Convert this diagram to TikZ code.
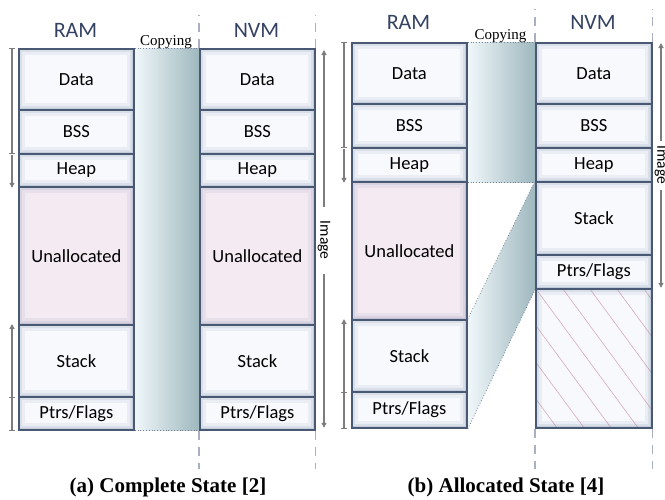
\documentclass[tikz,border=0pt]{standalone}
\usepackage{fontspec}
\setmainfont{Liberation Serif}
\newfontfamily\boxfont{Carlito}
\usetikzlibrary{arrows.meta,backgrounds}
\definecolor{memedge}{RGB}{74,89,115}
\definecolor{memfill}{RGB}{248,249,252}
\definecolor{glowc}{RGB}{120,138,170}
\definecolor{unalfill}{RGB}{244,234,242}
\definecolor{hatchc}{RGB}{215,170,192}
\definecolor{headc}{RGB}{52,66,98}
\definecolor{guidec}{RGB}{168,176,194}
\definecolor{markc}{RGB}{125,125,125}
\definecolor{bandl}{RGB}{240,247,250}
\definecolor{bandr}{RGB}{158,184,190}

\newcommand{\memglowpic}{%
  \draw[glowc, line width=13pt, opacity=.10] (path picture bounding box.south west) rectangle (path picture bounding box.north east);
  \draw[glowc, line width=7pt, opacity=.14] (path picture bounding box.south west) rectangle (path picture bounding box.north east);
  \draw[glowc, line width=3pt, opacity=.22] (path picture bounding box.south west) rectangle (path picture bounding box.north east);}
\newcommand{\hatchpic}{%
  \foreach \k in {-4,...,5}
    \draw[hatchc, line width=.6pt] ([xshift=\k*27pt]path picture bounding box.north west) -- ++(125,170);
  \memglowpic}

\begin{document}
\begin{tikzpicture}[
    x=1pt, y=-1pt,
    mem/.style={draw=memedge, line width=1.8pt, fill=memfill, minimum width=115pt, inner sep=0pt,
                anchor=north west, font=\boxfont\fontsize{18.5}{20}\selectfont, path picture={\memglowpic}},
    unal/.style={mem, fill=unalfill},
    hatched/.style={mem, path picture={\hatchpic}},
    head/.style={anchor=base, text=headc, font=\boxfont\fontsize{22}{24}\selectfont},
    copylbl/.style={anchor=base, inner sep=0pt, font=\fontsize{15}{17}\selectfont},
    imglbl/.style={rotate=-90, inner ysep=0pt, font=\boxfont\fontsize{15.5}{17}\selectfont},
    capt/.style={font=\bfseries\fontsize{21}{24}\selectfont},
    band/.style={left color=bandl, right color=bandr},
    dotl/.style={draw=memedge!75, dotted, line width=.8pt},
    guide/.style={draw=guidec, line width=1.2pt, dash pattern=on 9pt off 7pt},
    rng/.style={draw=markc, line width=1.1pt, {Bar[width=6pt]}-{Bar[width=6pt]}},
    grw/.style={draw=markc, line width=1.1pt, -{Triangle[width=5pt,length=5pt]}}
]
\useasboundingbox (0,0) rectangle (665,499);

% (a) RAM column
\node[mem, minimum height=61pt] (ad) at (18,48) {Data};
\node[mem, minimum height=44pt] (ab) at (18,109) {BSS};
\node[mem, minimum height=33pt] (ah) at (18,153) {Heap};
\node[unal, minimum height=138pt] (au) at (18,186) {Unallocated};
\node[mem, minimum height=72pt] (as) at (18,324) {Stack};
\node[mem, minimum height=33pt] (ap) at (18,396) {Ptrs/Flags};

% (a) NVM column
\node[mem, minimum height=61pt] (and) at (199,48) {Data};
\node[mem, minimum height=44pt] (anb) at (199,109) {BSS};
\node[mem, minimum height=33pt] (anh) at (199,153) {Heap};
\node[unal, minimum height=138pt] (anu) at (199,186) {Unallocated};
\node[mem, minimum height=72pt] (ans) at (199,324) {Stack};
\node[mem, minimum height=33pt] (anp) at (199,396) {Ptrs/Flags};

% (b) RAM column
\node[mem, minimum height=61pt] (bd) at (351,42) {Data};
\node[mem, minimum height=44pt] (bb) at (351,103) {BSS};
\node[mem, minimum height=34pt] (bh) at (351,147) {Heap};
\node[unal, minimum height=138pt] (bu) at (351,181) {Unallocated};
\node[mem, minimum height=72pt] (bs) at (351,319) {Stack};
\node[mem, minimum height=36pt] (bp) at (351,391) {Ptrs/Flags};

% (b) NVM column
\node[mem, minimum width=116pt, minimum height=61pt] (bnd) at (535,42) {Data};
\node[mem, minimum width=116pt, minimum height=44pt] (bnb) at (535,103) {BSS};
\node[mem, minimum width=116pt, minimum height=34pt] (bnh) at (535,147) {Heap};
\node[mem, minimum width=116pt, minimum height=73pt] (bns) at (535,181) {Stack};
\node[mem, minimum width=116pt, minimum height=34pt] (bnp) at (535,254) {Ptrs/Flags};
\node[hatched, minimum width=116pt, minimum height=139pt] (bnx) at (535,288) {};

% headers
\node[head] (aram) at (75.5,37) {RAM};
\node[head] (anvm) at (256.5,37) {NVM};
\node[head] (bram) at (408.5,29) {RAM};
\node[head] (bnvm) at (593,29) {NVM};
\node[copylbl] (acopy) at (166,45) {Copying};
\node[copylbl] (bcopy) at (500.5,39) {Copying};

% copying bands
\begin{scope}[on background layer]
\shade[band] (ad.north east) rectangle (anp.south west);
\shade[band] (bd.north east) rectangle (bnh.south west);
\shade[band] (bs.north east) -- (bns.north west) -- (bnp.south west) -- (bp.south east) -- cycle;
\end{scope}
\draw[dotl] (ad.north east) -- (and.north west);
\draw[dotl] (ap.south east) -- (anp.south west);
\draw[dotl] (bd.north east) -- (bnd.north west);
\draw[dotl] (bh.south east) -- (bnh.south west);
\draw[dotl] (bs.north east) -- (bns.north west);
\draw[dotl] (bp.south east) -- (bnp.south west);

% dashed guides
\draw[guide] (and.north west) -- ++(0,-33);
\draw[guide] (and.north east) -- ++(0,-33);
\draw[guide] (anp.south west) -- ++(0,38);
\draw[guide] (anp.south east) -- ++(0,38);
\draw[guide] (bnd.north west) -- ++(0,-33);
\draw[guide] (bnd.north east) -- ++(0,-33);
\draw[guide] (bnx.south west) -- ++(0,40);
\draw[guide] (bnx.south east) -- ++(0,40);

% growth markers left of RAM
\draw[rng] ([xshift=-6pt]ad.north west) -- ([xshift=-6pt,yshift=1pt]ab.south west);
\draw[grw] ([xshift=-6pt,yshift=-2pt]ah.north west) -- ([xshift=-6pt]ah.south west);
\draw[grw] ([xshift=-6pt]as.south west) -- ([xshift=-6pt]as.north west);
\draw[rng] ([xshift=-6pt,yshift=-1pt]ap.north west) -- ([xshift=-6pt]ap.south west);
\draw[rng] ([xshift=-7pt]bd.north west) -- ([xshift=-7pt,yshift=1pt]bb.south west);
\draw[grw] ([xshift=-7pt,yshift=-2pt]bh.north west) -- ([xshift=-7pt]bh.south west);
\draw[grw] ([xshift=-7pt]bs.south west) -- ([xshift=-7pt]bs.north west);
\draw[rng] ([xshift=-7pt,yshift=-1pt]bp.north west) -- ([xshift=-7pt]bp.south west);

% image extent right of NVM
\node[imglbl, inner xsep=14pt] (aimg) at (324,240) {Image};
\draw[grw] (aimg.west) -- ([yshift=-2pt]aimg.west |- and.north);
\draw[grw] (aimg.east) -- ([yshift=3pt]aimg.east |- anp.south);
\node[imglbl, inner xsep=5pt] (bimg) at (661,165) {Image};
\draw[grw] (bimg.west) -- ([yshift=-1pt]bimg.west |- bnd.north);
\draw[grw] (bimg.east) -- ([yshift=2pt]bimg.east |- bnp.south);

% captions
\node[capt] (acap) at (168,487) {(a) Complete State [2]};
\node[capt] (bcap) at (506,487) {(b) Allocated State [4]};
\end{tikzpicture}
\end{document}
